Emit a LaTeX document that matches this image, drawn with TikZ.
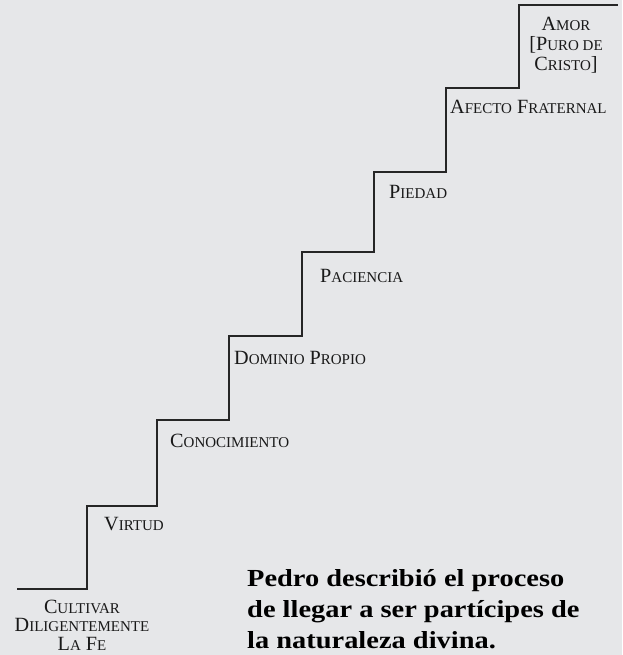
\documentclass[tikz,border=0pt]{standalone}
\usepackage{fontspec}
\setmainfont{Liberation Serif}
\newfontfamily\boldserif[FakeStretch=1.16]{Liberation Serif Bold}
\definecolor{bg}{RGB}{230,231,233}
\definecolor{stair}{RGB}{38,38,38}
\definecolor{ink}{RGB}{25,25,25}
\newcommand\smc[1]{{\fontsize{15}{15}\selectfont\MakeUppercase{#1}}}
\begin{document}
\begin{tikzpicture}[x=1pt,y=-1pt,
  stairline/.style={draw=stair,line width=1.8pt,line join=miter},
  lbl/.style={anchor=base west,inner sep=0pt,text=ink,font=\fontsize{20.2}{20.2}\selectfont},
  lblc/.style={anchor=base,inner sep=0pt,align=center,text=ink},
  note/.style={anchor=base west,inner sep=0pt,align=left,text=black,font=\boldserif\fontsize{24.5}{31}\selectfont}]
\fill[bg] (0,0) rectangle (622,655);
\useasboundingbox (0,0) rectangle (622,655);
\draw[stairline] (17,589) -- (87,589) -- (87,506) -- (157,506) -- (157,420) -- (229,420)
  -- (229,336) -- (302,336) -- (302,252) -- (374,252) -- (374,172) -- (446,172)
  -- (446,88) -- (519,88) -- (519,5) -- (618,5);
\node[lbl] (virtud) at (104,530) {V\smc{irtud}};
\node[lbl] (conoc) at (170,447) {C\smc{onocimiento}};
\node[lbl] (dominio) at (234,364) {D\smc{ominio} P\smc{ropio}};
\node[lbl] (paciencia) at (320,282) {P\smc{aciencia}};
\node[lbl] (piedad) at (389,198) {P\smc{iedad}};
\node[lbl] (afecto) at (450,114) {A\smc{fecto} F\smc{raternal}};
\node[lblc,font=\fontsize{20.2}{20}\selectfont] (amor) at (566,71)
  {A\smc{mor}\\{[}P\smc{uro de}\\C\smc{risto}{]}};
\node[lblc,font=\fontsize{20.2}{18.5}\selectfont] (cultivar) at (82,650)
  {C\smc{ultivar}\\D\smc{iligentemente}\\L\smc{a} F\smc{e}};
\node[note] (pedro) at (247,648)
  {Pedro describió el proceso\\de llegar a ser partícipes de\\la naturaleza divina.};
\end{tikzpicture}
\end{document}
